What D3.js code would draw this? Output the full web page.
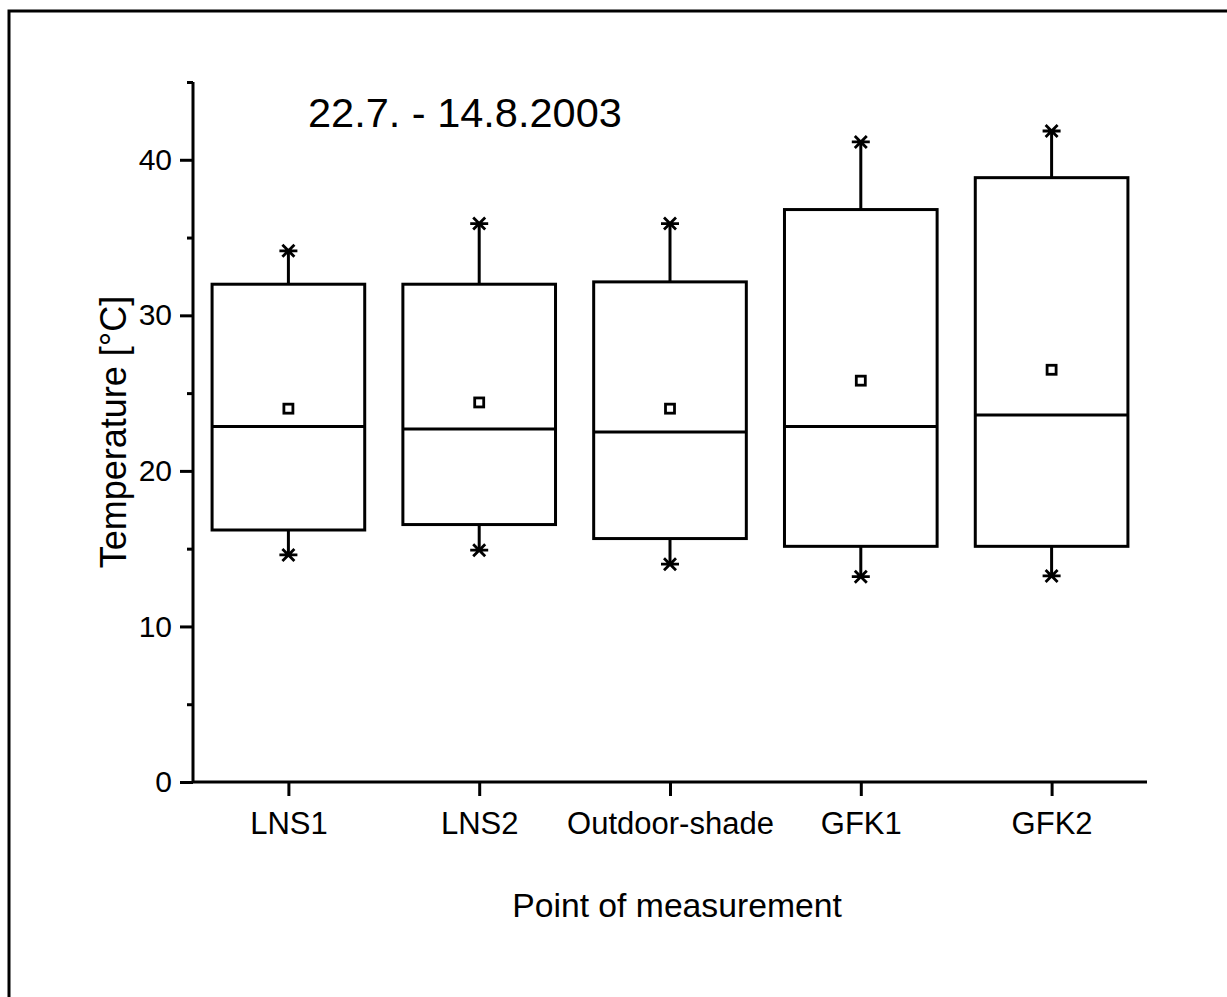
<!DOCTYPE html>
<html>
<head>
<meta charset="utf-8">
<script src="https://cdn.jsdelivr.net/npm/d3@7"></script>
<style>
  body { margin: 0; background: #fff; }
  text { font-family: "Liberation Sans", Arial, sans-serif; fill: #000; }
</style>
</head>
<body>
<svg id="chart" width="1227" height="997"></svg>
<script>
// Data.
var categories = ['LNS1', 'LNS2', 'Outdoor-shade', 'GFK1', 'GFK2'];
var minValues    = [14.6, 14.9, 14.0, 13.2, 13.25];
var q1Values     = [16.2, 16.55, 15.65, 15.15, 15.15];
var medianValues = [22.85, 22.7, 22.5, 22.85, 23.6];
var meanValues   = [24.0, 24.4, 24.0, 25.8, 26.5];
var q3Values     = [32.0, 32.0, 32.15, 36.8, 38.85];
var maxValues    = [34.15, 35.9, 35.9, 41.15, 41.85];
var majorTicks = [0, 10, 20, 30, 40];
var minorTicks = [5, 15, 25, 35, 45];

// Constants.
var kStroke = 3;
var kBoxWidth = 0.8;
var kCapHalf = 9;
var kStarHalf = 6;

var svg = d3.select('#chart');

// Outer frame (runs off the right and bottom edges).
svg.append('rect')
  .attr('x', 9).attr('y', 11)
  .attr('width', 1260).attr('height', 1040)
  .attr('fill', 'none').attr('stroke', '#000').attr('stroke-width', kStroke);

var x = d3.scaleLinear().domain([0.5, 5.5]).range([193, 1147]);
var y = d3.scaleLinear().domain([0, 45]).range([782, 82]);

// Y axis.
var yAxis = svg.append('g').attr('transform', 'translate(193,0)')
  .call(d3.axisLeft(y).tickValues(majorTicks).tickSize(13).tickPadding(8));
yAxis.select('.domain').attr('d', 'M0,' + y(45) + 'V' + y(0));
yAxis.selectAll('text').style('font-size', '30px')
  .style('font-family', '"Liberation Sans", Arial, sans-serif');
svg.append('g').attr('transform', 'translate(193,0)')
  .call(d3.axisLeft(y).tickValues(minorTicks).tickSize(6).tickFormat(''))
  .select('.domain').remove();

// X axis.
var xAxis = svg.append('g').attr('transform', 'translate(0,782)')
  .call(d3.axisBottom(x).tickValues([1, 2, 3, 4, 5]).tickSize(14)
    .tickPadding(16).tickFormat(function(d) { return categories[d - 1]; }));
xAxis.select('.domain').attr('d', 'M' + x(0.5) + ',0H' + x(5.5));
xAxis.selectAll('text').style('font-size', '31px')
  .style('font-family', '"Liberation Sans", Arial, sans-serif');

svg.selectAll('.domain, .tick line')
  .attr('stroke', '#000').attr('stroke-width', kStroke);

// Boxes.
var rows = categories.map(function(c, i) {
  return { pos: i + 1, min: minValues[i], q1: q1Values[i], med: medianValues[i],
           mean: meanValues[i], q3: q3Values[i], max: maxValues[i] };
});

var g = svg.selectAll('g.box').data(rows).enter().append('g')
  .attr('class', 'box')
  .attr('stroke', '#000').attr('stroke-width', kStroke).attr('fill', 'none');

function Whisker(from, to) {
  g.append('line')
    .attr('x1', function(d) { return x(d.pos); })
    .attr('x2', function(d) { return x(d.pos); })
    .attr('y1', function(d) { return y(d[from]); })
    .attr('y2', function(d) { return y(d[to]); });
}
Whisker('q3', 'max');
Whisker('q1', 'min');

g.append('rect')
  .attr('x', function(d) { return x(d.pos - kBoxWidth / 2); })
  .attr('width', function(d) { return x(d.pos + kBoxWidth / 2) - x(d.pos - kBoxWidth / 2); })
  .attr('y', function(d) { return y(d.q3); })
  .attr('height', function(d) { return y(d.q1) - y(d.q3); })
  .attr('fill', '#fff');

g.append('line')
  .attr('x1', function(d) { return x(d.pos - kBoxWidth / 2); })
  .attr('x2', function(d) { return x(d.pos + kBoxWidth / 2); })
  .attr('y1', function(d) { return y(d.med); })
  .attr('y2', function(d) { return y(d.med); });

// Mean marker.
g.append('rect')
  .attr('x', function(d) { return x(d.pos) - 4.5; })
  .attr('y', function(d) { return y(d.mean) - 4.5; })
  .attr('width', 9).attr('height', 9)
  .attr('stroke-width', 2.8).attr('fill', '#fff');

// Extremes: asterisk with a horizontal cap.
function Star(key) {
  g.append('path')
    .attr('stroke-width', 2.8)
    .attr('d', function(d) {
      var cx = x(d.pos), cy = y(d[key]);
      return 'M' + (cx - kCapHalf) + ',' + cy + 'H' + (cx + kCapHalf) +
        'M' + (cx - kStarHalf) + ',' + (cy - kStarHalf) + 'L' + (cx + kStarHalf) + ',' + (cy + kStarHalf) +
        'M' + (cx - kStarHalf) + ',' + (cy + kStarHalf) + 'L' + (cx + kStarHalf) + ',' + (cy - kStarHalf);
    });
}
Star('max');
Star('min');

// Texts.
svg.append('text')
  .attr('x', 308).attr('y', 127)
  .style('font-size', '41.5px')
  .text('22.7. - 14.8.2003');

svg.append('text')
  .attr('transform', 'translate(126,' + ((y(0) + y(45)) / 2) + ') rotate(-90)')
  .attr('text-anchor', 'middle')
  .style('font-size', '36px')
  .text('Temperature [°C]');

svg.append('text')
  .attr('x', 677).attr('y', 917)
  .attr('text-anchor', 'middle')
  .style('font-size', '33.7px')
  .text('Point of measurement');
</script>
</body>
</html>
